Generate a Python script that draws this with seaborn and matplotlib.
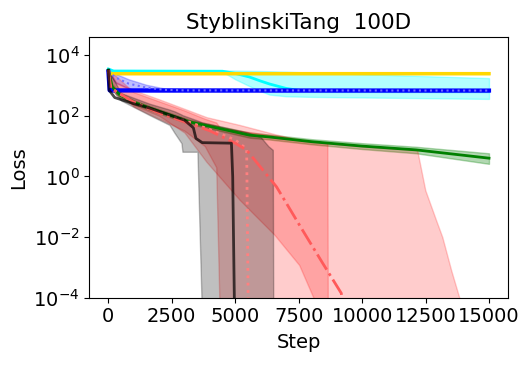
import numpy as np
import matplotlib
matplotlib.use("Agg")
import matplotlib.pyplot as plt
import seaborn as sns

# loss values (step, loss)
gold_steps = [0, 100, 15000]
gold_mean = [3000, 2450, 2450]
gold_lo = [2800, 2350, 2350]
gold_hi = [3300, 2550, 2550]

cyan_steps = [0, 200, 4500, 5000, 5560, 6000, 6350, 7000, 7500, 8000, 15000]
cyan_mean = [3500, 3000, 2950, 2500, 1900, 1400, 1120, 800, 690, 670, 660]
cyan_lo = [3200, 2750, 2800, 1600, 950, 650, 500, 440, 430, 420, 360]
cyan_hi = [3800, 3200, 3150, 3100, 3050, 3000, 2950, 2850, 2750, 2650, 1750]

blue_steps = [0, 50, 15000]
blue_mean = [2900, 690, 680]
blue_lo = [2700, 620, 610]
blue_hi = [3100, 760, 750]

blue2_steps = [0, 300, 800, 1500, 2200, 3000, 15000]
blue2_mean = [2900, 1800, 1150, 850, 720, 690, 680]
blue2_lo = [2500, 1200, 780, 650, 640, 640, 640]
blue2_hi = [3300, 2400, 1600, 1050, 800, 730, 720]

green_steps = [0, 150, 450, 1000, 1625, 3200, 5560, 6350, 8000, 10000, 12130, 15000]
green_mean = [3200, 900, 490, 280, 180, 63, 23, 20, 14, 10, 7.5, 4.0]
green_lo = [2900, 780, 420, 240, 155, 54, 19, 16.5, 11.5, 8.0, 5.8, 2.6]
green_hi = [3500, 1050, 570, 330, 210, 74, 28, 24, 17, 12.5, 9.5, 5.8]

black_steps = [0, 30, 250, 1000, 1625, 3000, 3350, 3450, 3700, 4850, 4900, 4980]
black_mean = [3200, 700, 400, 250, 180, 72, 40, 18, 13, 12.5, 1.0, 1e-5]
gray_steps = [0, 500, 1625, 2410, 2610, 2880, 2920, 3510, 3700, 5500, 6000, 6300, 6480, 6500]
gray_lo = [1000, 320, 105, 50, 27, 12.5, 6.5, 6.5, 1e-5, 1e-5, 1e-5, 1e-5, 1e-5, 1e-5]
gray_hi = [3300, 560, 250, 160, 140, 110, 105, 70, 60, 28, 20, 10, 7.5, 1e-5]

red2_steps = [0, 100, 1000, 2000, 3000, 4000, 5000, 5450, 6630, 7650, 8440, 9180, 9300]
red2_mean = [3200, 800, 280, 125, 63, 32, 12.5, 7.4, 0.45, 0.017, 0.0014, 0.00014, 1e-5]
red2_band_steps = [0, 300, 1000, 2000, 3000, 3870, 5170, 6540, 7520, 8600, 8630, 8650]
red2_lo = [2000, 500, 220, 100, 28, 3.0, 0.17, 0.012, 0.0012, 1e-5, 1e-5, 1e-5]
red2_hi = [3500, 1300, 700, 350, 170, 90, 50, 25, 16, 13, 12.5, 1e-5]

red3_steps = [0, 100, 1000, 2000, 3000, 4000, 5000, 5450, 5520]
red3_mean = [3200, 800, 280, 125, 70, 35, 16, 8.0, 1e-5]
red3_band_steps = [0, 1000, 2000, 3000, 3800, 4250, 4400, 8630, 10000, 12170, 12490,
                   12920, 13160, 13510, 13830, 13900]
red3_lo = [1500, 200, 80, 32, 10, 2.0, 1e-5, 1e-5, 1e-5, 1e-5, 1e-5,
           1e-5, 1e-5, 1e-5, 1e-5, 1e-5]
red3_hi = [3400, 600, 300, 150, 80, 60, 40, 12.5, 10, 7.4, 0.35, 0.035, 0.01, 0.0008, 0.0001, 1e-5]

fig, ax = plt.subplots(figsize=(5.27, 3.65), dpi=100)
fig.subplots_adjust(left=0.1695, right=0.964, bottom=0.1844, top=0.898)
ax.set_yscale("log")

ax.fill_between(cyan_steps, cyan_lo, cyan_hi, color="cyan", alpha=0.3)
sns.lineplot(x=cyan_steps, y=cyan_mean, color="cyan", lw=2, estimator=None, sort=False, ax=ax)
ax.fill_between(gold_steps, gold_lo, gold_hi, color="gold", alpha=0.3)
sns.lineplot(x=gold_steps, y=gold_mean, color="gold", lw=2.5, estimator=None, sort=False, ax=ax)
ax.fill_between(blue2_steps, blue2_lo, blue2_hi, color="blue", alpha=0.25)
ax.fill_between(blue_steps, blue_lo, blue_hi, color="blue", alpha=0.3)
sns.lineplot(x=blue_steps, y=blue_mean, color="blue", lw=3, estimator=None, sort=False, ax=ax)
sns.lineplot(x=blue2_steps, y=blue2_mean, color="#7070ff", lw=1.5, linestyle=":",
             estimator=None, sort=False, ax=ax)
ax.fill_between(green_steps, green_lo, green_hi, color="green", alpha=0.3)
sns.lineplot(x=green_steps, y=green_mean, color="green", lw=2, estimator=None, sort=False, ax=ax)
ax.fill_between(red3_band_steps, red3_lo, red3_hi, color="red", alpha=0.2)
ax.fill_between(red2_band_steps, red2_lo, red2_hi, color="red", alpha=0.2)
sns.lineplot(x=red3_steps, y=red3_mean, color="#ff8080", lw=2, linestyle=":",
             estimator=None, sort=False, ax=ax)
sns.lineplot(x=red2_steps, y=red2_mean, color="#ff5a5a", lw=2, linestyle="-.",
             estimator=None, sort=False, ax=ax)
ax.fill_between(gray_steps, gray_lo, gray_hi, color="black", alpha=0.25)
sns.lineplot(x=black_steps, y=black_mean, color="black", lw=2, alpha=0.7,
             estimator=None, sort=False, ax=ax)

ax.set_ylim(1e-4, 3.9e4)
ax.set_xlim(-750, 15750)
ax.set_xticks([0, 2500, 5000, 7500, 10000, 12500, 15000])
ax.tick_params(labelsize=14)
ax.set_xlabel("Step", fontsize=14, labelpad=5)
ax.set_ylabel("Loss", fontsize=14)
ax.set_title("StyblinskiTang  100D", fontsize=15.5)

fig.savefig("out.png", dpi=100)
